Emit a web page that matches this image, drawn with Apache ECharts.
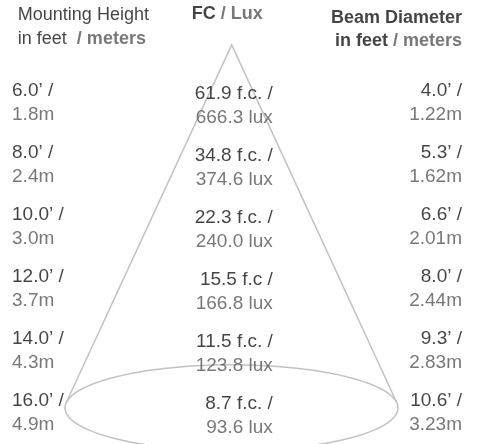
<!DOCTYPE html>
<html>
<head>
<meta charset="utf-8">
<script src="https://cdn.jsdelivr.net/npm/echarts@6/dist/echarts.min.js"></script>
<style>
html,body{margin:0;padding:0;background:#fff;}
#chart{width:482px;height:444px;}
</style>
</head>
<body>
<div id="chart"></div>
<script>
// ---- data ----
const mountFt = ["6.0", "8.0", "10.0", "12.0", "14.0", "16.0"];
const mountM  = ["1.8", "2.4", "3.0", "3.7", "4.3", "4.9"];
const fcVals  = ["61.9 f.c.", "34.8 f.c.", "22.3 f.c.", "15.5 f.c", "11.5 f.c.", "8.7 f.c."];
const luxVals = ["666.3", "374.6", "240.0", "166.8", "123.8", "93.6"];
const beamFt  = ["4.0", "5.3", "6.6", "8.0", "9.3", "10.6"];
const beamM   = ["1.22", "1.62", "2.01", "2.44", "2.83", "3.23"];

// ---- layout (axis units: x 0..100, y = row index) ----
const COL = { left: 2.5, center: 56.6, right: 95.85 };
const CENTER_OFFSET = 0.05;
const HEAD = { left: [3.7, -1.22], center: [39.8, -1.424], right: [95.85, -1.17] };
const CONE = { apexX: 48.07, apexY: -0.927, cx: 48.03, cy: 4.927, rx: 34.54, ry: 0.694 };

const FONT = "'Liberation Sans', Arial, Helvetica, sans-serif";
const DARK = '#141414', GRAY = '#555658', LINE = '#c2c2c2';
const VS = 19, VLH = 24;

const valRich = {
  a: { color: DARK, fontSize: VS, lineHeight: VLH, fontFamily: FONT },
  b: { color: GRAY, fontSize: VS, lineHeight: VLH, fontFamily: FONT }
};

function textSeries(points, labelOpt) {
  return {
    type: 'scatter', symbolSize: 0, silent: true, z: 3,
    data: points,
    label: Object.assign({ show: true, distance: 0, fontFamily: FONT }, labelOpt)
  };
}

const leftSeries = textSeries(mountFt.map((v, i) => [COL.left, i]), {
  position: 'right', align: 'left', rich: valRich,
  formatter: p => `{a|${mountFt[p.dataIndex]}’ /}\n{b|${mountM[p.dataIndex]}m}`
});
const centerSeries = textSeries(fcVals.map((v, i) => [COL.center, i + CENTER_OFFSET]), {
  position: 'left', align: 'right', rich: valRich,
  formatter: p => `{a|${fcVals[p.dataIndex]} /}\n{b|${luxVals[p.dataIndex]} lux}`
});
const rightSeries = textSeries(beamFt.map((v, i) => [COL.right, i]), {
  position: 'left', align: 'right', rich: valRich,
  formatter: p => `{a|${beamFt[p.dataIndex]}’ /}\n{b|${beamM[p.dataIndex]}m}`
});

const HS = 18;
const headRich = {
  r: { color: DARK, fontSize: HS, lineHeight: 24, fontFamily: FONT },
  bd: { color: DARK, fontSize: HS, lineHeight: 23, fontWeight: 'bold', fontFamily: FONT },
  bg: { color: GRAY, fontSize: HS, lineHeight: 24, fontWeight: 'bold', fontFamily: FONT },
  bgr: { color: GRAY, fontSize: HS, lineHeight: 23, fontWeight: 'bold', fontFamily: FONT }
};
const headerSeries = {
  type: 'scatter', symbolSize: 0, silent: true, z: 3,
  data: [
    { value: HEAD.left, label: { position: 'right', align: 'left',
      formatter: '{r|Mounting Height}\n{r|in feet  }{bg|/ meters}' } },
    { value: HEAD.center, label: { position: 'right', align: 'left',
      formatter: '{bd|FC }{bg|/ Lux}' } },
    { value: HEAD.right, label: { position: 'left', align: 'right',
      formatter: '{bd|Beam Diameter}\n{bd|in feet }{bgr|/ meters}' } }
  ],
  label: { show: true, distance: 0, rich: headRich, fontFamily: FONT }
};

const coneSeries = {
  type: 'custom', silent: true, clip: false, z: 2,
  data: [[CONE.cx, CONE.cy]],
  renderItem: function (params, api) {
    const A = api.coord([CONE.apexX, CONE.apexY]);
    const C = api.coord([CONE.cx, CONE.cy]);
    const s = api.size([CONE.rx, CONE.ry]);
    const a = s[0], b = s[1];
    const px = (A[0] - C[0]) / a, py = (A[1] - C[1]) / b;
    const d = Math.hypot(px, py), th = Math.atan2(py, px), al = Math.acos(1 / d);
    const P1 = [C[0] + a * Math.cos(th + al), C[1] + b * Math.sin(th + al)];
    const P2 = [C[0] + a * Math.cos(th - al), C[1] + b * Math.sin(th - al)];
    const pts = [];
    for (let k = 0; k < 180; k++) {
      const t = k / 180 * Math.PI * 2;
      pts.push([C[0] + a * Math.cos(t), C[1] + b * Math.sin(t)]);
    }
    const st = { fill: null, stroke: LINE, lineWidth: 1.5 };
    return {
      type: 'group',
      children: [
        { type: 'polygon', shape: { points: pts }, style: st },
        { type: 'polyline', shape: { points: [P1, A, P2] }, style: st }
      ]
    };
  }
};

const chart = echarts.init(document.getElementById('chart'), null, { renderer: 'canvas' });
chart.setOption({
  animation: false,
  backgroundColor: '#fff',
  grid: { left: 0, right: 0, top: 0, bottom: 0 },
  xAxis: { type: 'value', min: 0, max: 100, show: false },
  yAxis: { type: 'value', min: -1.65, max: 5.51, inverse: true, show: false },
  series: [coneSeries, leftSeries, centerSeries, rightSeries, headerSeries]
});
</script>
</body>
</html>
